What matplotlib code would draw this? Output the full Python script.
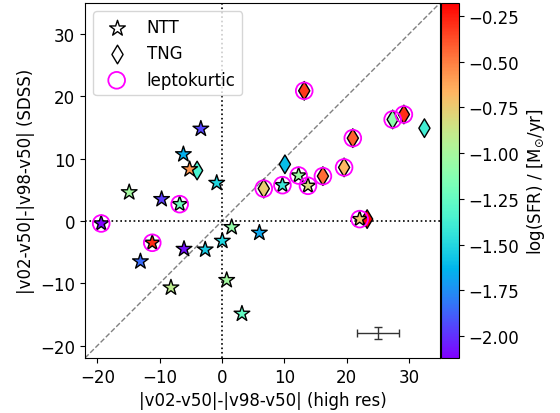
import numpy as np
import matplotlib
matplotlib.use('Agg')
from matplotlib import pyplot as plt
from matplotlib.colors import Normalize

# NTT measurements (stars)
ntt_x = [-19.4, -3.4, -6.2, -5.2, -0.85, -14.9, -9.7, -6.8, -11.2, -6.1, -2.7,
         0.05, 1.55, -13.1, -8.2, 0.75, 3.2, 6.0, 22.1, 12.3, 9.7, 13.8]
ntt_y = [-0.4, 14.8, 10.7, 8.3, 6.1, 4.6, 3.5, 2.7, -3.5, -4.5, -4.6,
         -3.2, -1.0, -6.5, -10.7, -9.5, -14.9, -1.9, 0.3, 7.3, 5.75, 5.65]
ntt_sfr = [-2.12, -1.95, -1.65, -0.57, -1.5, -1.02, -1.97, -1.22, -0.28, -2.08, -1.55,
           -1.5, -1.08, -1.85, -0.92, -1.02, -1.25, -1.68, -0.72, -1.05, -1.42, -0.82]
ntt_lepto = [1, 0, 0, 0, 0, 0, 0, 1, 1, 0, 0,
             0, 0, 0, 0, 0, 0, 0, 1, 1, 1, 1]

# TNG measurements (diamonds)
tng_x = [-4.0, 23.3, 13.2, 27.4, 29.2, 32.5, 21.0, 19.6, 10.1, 16.2, 6.7]
tng_y = [8.1, 0.3, 20.9, 16.3, 17.1, 14.9, 13.3, 8.6, 9.1, 7.2, 5.2]
tng_sfr = [-1.35, -0.18, -0.32, -1.1, -0.3, -1.38, -0.42, -0.68, -1.6, -0.45, -0.75]
tng_lepto = [0, 0, 1, 1, 1, 0, 1, 1, 0, 1, 1]

# typical uncertainty
err_x, err_y = 25.0, -18.0
err_dx, err_dy = 3.4, 1.0

lims = (-22, 35)

ntt_x, ntt_y, ntt_sfr = np.array(ntt_x), np.array(ntt_y), np.array(ntt_sfr)
tng_x, tng_y, tng_sfr = np.array(tng_x), np.array(tng_y), np.array(tng_sfr)
ntt_lepto = np.array(ntt_lepto, dtype=bool)
tng_lepto = np.array(tng_lepto, dtype=bool)

all_sfr = np.concatenate([ntt_sfr, tng_sfr])
norm = Normalize(vmin=all_sfr.min(), vmax=all_sfr.max())
cmap = 'rainbow'

plt.rcParams['font.size'] = 12

fig = plt.figure(figsize=(5.6, 4.14), dpi=100)
ax = fig.add_axes([85/560, 55/414, 355/560, 355/414])
cax = fig.add_axes([441/560, 55/414, 18/560, 355/414])

ax.plot(lims, lims, '--', color='grey', lw=1, zorder=1)
ax.axhline(0, color='k', ls=':', lw=1.2, zorder=1)
ax.axvline(0, color='k', ls=':', lw=1.2, zorder=1)

ax.scatter(tng_x, tng_y, c=tng_sfr, cmap=cmap, norm=norm, marker='d', s=90,
           edgecolors='k', linewidths=1, zorder=3)
sc = ax.scatter(ntt_x, ntt_y, c=ntt_sfr, cmap=cmap, norm=norm, marker='*', s=140,
                edgecolors='k', linewidths=1, zorder=3)

lx = np.concatenate([ntt_x[ntt_lepto], tng_x[tng_lepto]])
ly = np.concatenate([ntt_y[ntt_lepto], tng_y[tng_lepto]])
ax.scatter(lx, ly, s=145, facecolors='none', edgecolors='magenta', linewidths=1.3, zorder=4)

ax.errorbar(err_x, err_y, xerr=err_dx, yerr=err_dy, color='0.2', capsize=3, lw=1)

# legend entries with neutral markers
h1 = ax.scatter([], [], marker='*', s=140, facecolors='white', edgecolors='k', linewidths=1)
h2 = ax.scatter([], [], marker='d', s=90, facecolors='white', edgecolors='k', linewidths=1)
h3 = ax.scatter([], [], s=145, facecolors='none', edgecolors='magenta', linewidths=1.3)
ax.legend([h1, h2, h3], ['NTT', 'TNG', 'leptokurtic'], loc='upper left')

ax.set_xlim(lims)
ax.set_ylim(lims)
ax.set_xticks([-20, -10, 0, 10, 20, 30])
ax.set_yticks([-20, -10, 0, 10, 20, 30])
ax.set_xlabel('|v02-v50|-|v98-v50| (high res)')
ax.set_ylabel('|v02-v50|-|v98-v50| (SDSS)')

cb = fig.colorbar(sc, cax=cax)
cb.set_ticks([-0.25, -0.5, -0.75, -1.0, -1.25, -1.5, -1.75, -2.0])
cb.set_label(r'log(SFR) / [M$_{\odot}$/yr]')

fig.savefig('out.png', dpi=100)
